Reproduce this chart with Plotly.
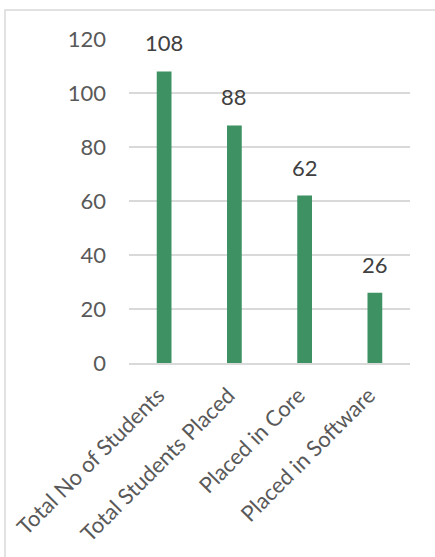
import plotly.graph_objects as go

categories = ["Total No of Students", "Total Students Placed", "Placed in Core", "Placed in Software"]
values = [108, 88, 62, 26]
y_ticks = [0, 20, 40, 60, 80, 100, 120]

W, H = 435, 557
ML, MR, MT, MB = 129, 25, 39, 194
pw, ph = W - ML - MR, H - MT - MB

def px_to_paper_x(px):
    return (px - ML) / pw

def px_to_paper_y(py):
    return (H - MB - py) / ph

FONT = "Lato"
FS = 22
bar_color = "rgb(61,145,98)"

fig = go.Figure()
fig.add_trace(go.Bar(
    x=categories, y=values, marker=dict(color=bar_color, line=dict(width=0)),
    width=0.21, hoverinfo="skip",
))

for c, v in zip(categories, values):
    fig.add_annotation(x=c, y=v, text=str(v), showarrow=False, yanchor="bottom",
                       yshift=13, font=dict(family=FONT, size=FS, color="#404040"))

# chart border (left and top visible)
fig.add_shape(type="rect", xref="paper", yref="paper",
              x0=px_to_paper_x(5), x1=px_to_paper_x(445),
              y0=px_to_paper_y(570), y1=px_to_paper_y(10),
              line=dict(color="#d9d9d9", width=1.5), layer="below")

fig.update_layout(
    width=W, height=H,
    margin=dict(l=ML, r=MR, t=MT, b=MB, autoexpand=False),
    paper_bgcolor="white", plot_bgcolor="white",
    showlegend=False,
    font=dict(family=FONT, size=FS, color="#595959"),
    xaxis=dict(tickangle=-45, showgrid=False, showline=True, linecolor="#d9d9d9",
               linewidth=1.5, ticks="", tickfont=dict(size=FS, color="#595959"),
               ticklabelstandoff=9, ticklabelshift=-6, fixedrange=True),
    yaxis=dict(range=[0, 120], tickvals=y_ticks, showgrid=True, gridcolor="#d9d9d9",
               gridwidth=1.5, zeroline=False, showline=False, ticks="",
               tickfont=dict(size=FS, color="#595959"), ticklabelstandoff=22,
               fixedrange=True),
)

fig.write_html("out.html", config={"displayModeBar": False},
               post_script="document.body.style.margin='0';")
